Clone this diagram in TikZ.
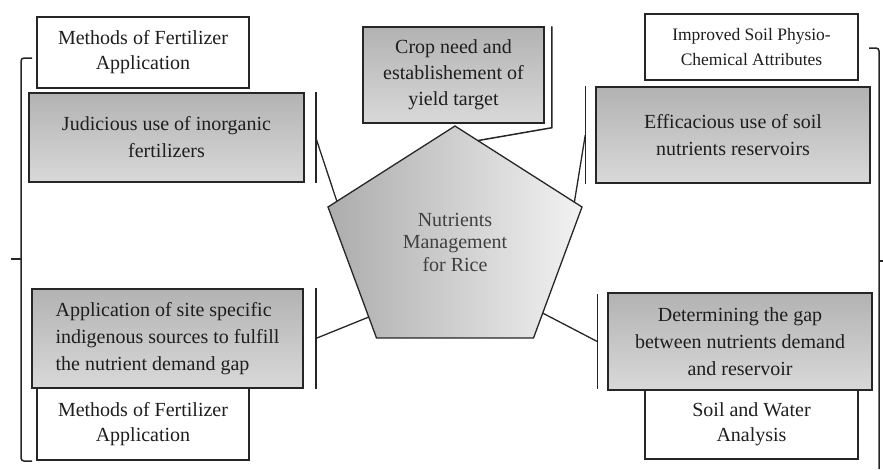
\documentclass[tikz,border=0pt]{standalone}
\usepackage{fontspec}
\setmainfont{Liberation Serif}
\usepackage{tikz}
\usetikzlibrary{calc}
\definecolor{ink}{HTML}{1E1E1E}
\definecolor{edge}{HTML}{262626}

\begin{document}
\begin{tikzpicture}[
  x=1pt, y=-1pt,
  gbox/.style={rectangle, draw=edge, line width=1.5pt, top color=gray!60, bottom color=gray!30, text=ink, align=center, inner sep=0pt, font=\fontsize{20}{27}\selectfont},
  wbox/.style={rectangle, draw=edge, line width=1.1pt, fill=white, text=ink, align=center, inner sep=0pt, font=\fontsize{20}{25}\selectfont},
  bar/.style={draw=edge, line width=1.5pt},
  link/.style={draw=edge, line width=1.3pt},
  brace/.style={draw=edge, line width=1.5pt, rounded corners=3pt}
]
  \useasboundingbox (0,0) rectangle (883,469);

  % hub pentagon
  \coordinate (pt)  at (455,126);
  \coordinate (pur) at (582,207);
  \coordinate (pbr) at (533.5,338);
  \coordinate (pbl) at (376.5,338);
  \coordinate (pul) at (328,207);
  \draw[edge, line width=1.3pt, left color=gray!65, right color=gray!10] (pt) -- (pur) -- (pbr) -- (pbl) -- (pul) -- cycle;
  \node[text=ink!85, align=center, font=\fontsize{20}{22.5}\selectfont] (hub) at (455,242) {Nutrients\\Management\\for Rice};

  % outer boxes
  \node[wbox, minimum width=212pt, minimum height=71pt] (mtop) at (143,52.5) {Methods of Fertilizer\\Application};
  \node[gbox, minimum width=275pt, minimum height=89pt] (judi) at (166.5,137.5) {Judicious use of inorganic\\fertilizers};
  \node[gbox, minimum width=181pt, minimum height=96pt, font=\fontsize{20}{26}\selectfont] (crop) at (453.5,75) {Crop need and\\establishement of\\yield target};
  \node[wbox, minimum width=213pt, minimum height=66pt, font=\fontsize{17.5}{25}\selectfont] (soil) at (751.5,47) {Improved Soil Physio-\\Chemical Attributes};
  \node[gbox, minimum width=274pt, minimum height=96pt] (effi) at (733,135) {Efficacious use of soil\\nutrients reservoirs};
  \node[wbox, minimum width=212pt, minimum height=72pt] (mbot) at (143,424) {Methods of Fertilizer\\Application};
  \node[wbox, minimum width=213pt, minimum height=69pt] (swa) at (751.5,424.5) {Soil and Water\\Analysis};
  \node[gbox, minimum width=271pt, minimum height=99pt, align=left] (appl) at (167.5,338.5) {Application of site specific\\indigenous sources to fulfill\\the nutrient demand gap};
  \node[gbox, minimum width=264pt, minimum height=97pt] (gap) at (740,341.5) {Determining the gap\\between nutrients demand\\and reservoir};

  % bars beside the grey boxes
  \draw[bar] ([xshift=11pt]judi.north east) -- ([xshift=11pt]judi.south east);
  \draw[bar] ([xshift=-10pt]effi.north west) -- ([xshift=-10pt]effi.south west);
  \draw[bar] ([xshift=12pt]appl.north east) -- ([xshift=12pt]appl.south east);
  \draw[bar] ([xshift=-10pt,yshift=-2pt]gap.north west) -- ([xshift=-10pt,yshift=2pt]gap.south west);

  % links to the hub
  \draw[link] ([xshift=11pt]judi.east) -- ($(pul)!0.07!(pt)$);
  \draw[link] ([xshift=-10pt]effi.west) -- ($(pur)!0.06!(pt)$);
  \draw[link] ([xshift=12pt]appl.east) -- ($(pul)!0.84!(pbl)$);
  \draw[link] ([xshift=-10pt]gap.west) -- ($(pur)!0.81!(pbr)$);
  \draw[bar] ([xshift=7pt]crop.north east) -- ([xshift=7pt,yshift=-4pt]crop.south east) -- ($(pt)!0.18!(pur)$);

  % braces
  \draw[brace] (32,58) -- (21,58) -- (21,461) -- (32,461);
  \draw[edge, line width=2.4pt] (21,259) -- (11,259);
  \draw[brace] (869,48) -- (879,48) -- (879,469);
  \draw[edge, line width=2.4pt] (879,261) -- (883,261);
\end{tikzpicture}
\end{document}
